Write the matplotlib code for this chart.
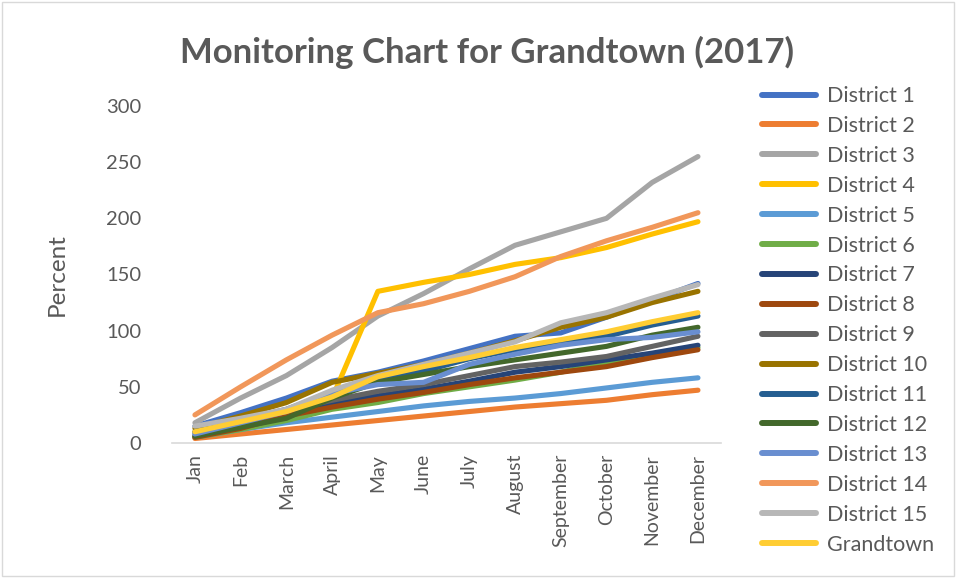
import matplotlib.pyplot as plt
from matplotlib.patches import Rectangle

months = ['Jan', 'Feb', 'March', 'April', 'May', 'June', 'July', 'August',
          'September', 'October', 'November', 'December']

names = ['District %d' % i for i in range(1, 16)] + ['Grandtown']

d1 = [15, 27, 40, 55, 63, 73, 84, 95, 98, 112, 127, 142]
d2 = [4, 8, 12, 16, 20, 24, 28, 32, 35, 38, 43, 47]
d3 = [18, 40, 60, 85, 113, 133, 155, 176, 188, 200, 232, 255]
d4 = [10, 19, 29, 40, 135, 143, 150, 159, 165, 174, 186, 197]
d5 = [5, 12, 18, 23, 28, 33, 37, 40, 44, 49, 54, 58]
d6 = [5, 12, 20, 30, 36, 44, 50, 56, 63, 72, 78, 85]
d7 = [6, 14, 25, 35, 42, 48, 55, 63, 68, 74, 80, 87]
d8 = [5, 13, 24, 32, 39, 45, 52, 58, 63, 68, 76, 83]
d9 = [8, 18, 29, 38, 46, 52, 60, 68, 72, 77, 86, 95]
d10 = [13, 24, 36, 54, 62, 70, 80, 91, 103, 112, 125, 135]
d11 = [10, 20, 30, 45, 56, 64, 75, 83, 89, 95, 105, 113]
d12 = [6, 14, 22, 40, 54, 61, 68, 74, 80, 86, 96, 103]
d13 = [8, 18, 28, 44, 52, 54, 70, 79, 87, 92, 94, 99]
d14 = [25, 50, 74, 96, 116, 124, 135, 148, 166, 180, 192, 205]
d15 = [15, 22, 30, 47, 60, 70, 80, 90, 107, 116, 129, 141]
grandtown = [10, 19, 28, 41, 59, 68, 76, 85, 92, 99, 108, 116]

series = [d1, d2, d3, d4, d5, d6, d7, d8, d9, d10, d11, d12, d13, d14, d15,
          grandtown]
colors = ['#4472C4', '#ED7D31', '#A5A5A5', '#FFC000', '#5B9BD5', '#70AD47',
          '#264478', '#9E480E', '#636363', '#997300', '#255E91', '#43682B',
          '#698ED0', '#F1975A', '#B7B7B7', '#FFCD33']

txt = '#595959'
plt.rcParams['font.family'] = ['Lato', 'DejaVu Sans']

fig = plt.figure(figsize=(9.56, 5.78), dpi=100)
ax = fig.add_axes([0.180, 0.2336, 0.574, 0.583])

x = range(len(months))
for name, vals, col in zip(names, series, colors):
    ax.plot(x, vals, color=col, lw=3.7, label=name,
            solid_capstyle='round', solid_joinstyle='round')

ax.set_xlim(-0.5, len(months) - 0.5)
ax.set_ylim(0, 300)
ax.set_yticks(range(0, 301, 50))
ax.set_xticks(list(x))
ax.set_xticklabels(months, rotation=90)
ax.tick_params(axis='both', length=0, labelsize=14, colors=txt)
ax.tick_params(axis='y', labelsize=14.5, pad=22)
ax.tick_params(axis='x', pad=8)

for side in ['top', 'right', 'left']:
    ax.spines[side].set_visible(False)
ax.spines['bottom'].set_color('#D9D9D9')
ax.spines['bottom'].set_linewidth(1.2)

ax.set_ylabel('Percent', fontsize=17.5, color=txt, labelpad=28)

fig.text(0.509, 0.910, 'Monitoring Chart for Grandtown (2017)',
         ha='center', va='center', fontsize=25, fontweight='bold', color=txt)

leg = fig.legend(loc='upper left', bbox_to_anchor=(0.788, 0.866),
                 frameon=False, fontsize=15.5, labelspacing=0.46,
                 handlelength=2.5, handletextpad=0.5, borderaxespad=0)
for t in leg.get_texts():
    t.set_color(txt)
for h in leg.legend_handles:
    h.set_linewidth(4.3)
    h.set_solid_capstyle('round')

fig.patches.append(Rectangle((0.002, 0.004), 0.996, 0.992,
                             transform=fig.transFigure, fill=False,
                             edgecolor='#D9D9D9', lw=1))

fig.savefig('out.png', dpi=100)
